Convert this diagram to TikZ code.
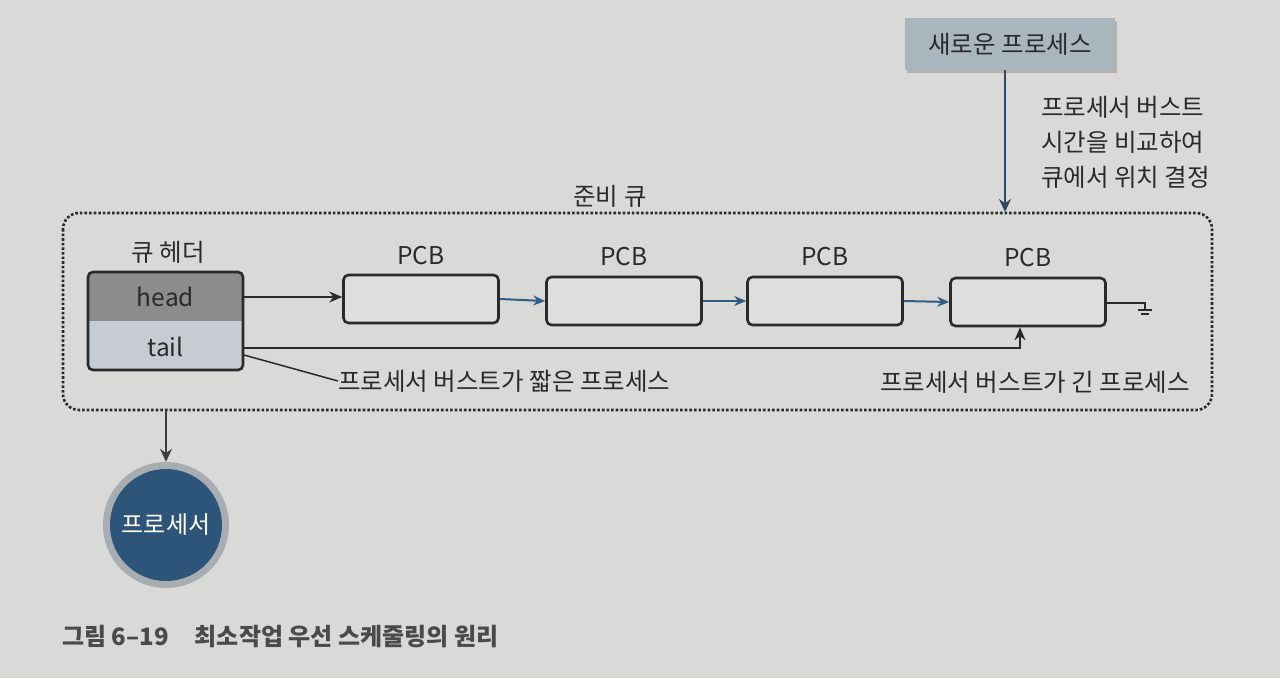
\documentclass[tikz,border=0pt]{standalone}
\usepackage{fontspec}
\setmainfont{Noto Sans CJK KR}
\usetikzlibrary{arrows.meta,shadows}
\definecolor{bg}{HTML}{D9D9D7}
\definecolor{ink}{HTML}{2A2A2A}
\definecolor{headfill}{HTML}{8C8C8C}
\definecolor{tailfill}{HTML}{C6CCD1}
\definecolor{boxfill}{HTML}{DEDEDC}
\definecolor{linkblue}{HTML}{2F5E82}
\definecolor{newfill}{HTML}{A9B6BE}
\definecolor{arrowblue}{HTML}{2E4A64}
\definecolor{cpublue}{HTML}{2D5479}
\definecolor{ring}{HTML}{A8ADB1}
\tikzset{
  txt/.style={font=\fontsize{24.5}{28}\selectfont, text=ink, inner sep=0pt},
  pcb/.style={draw=ink, line width=2.6pt, rounded corners=5pt, fill=boxfill, minimum width=155pt, minimum height=48pt, inner sep=0pt},
  blink/.style={draw=linkblue, line width=2pt, -{Stealth[length=12pt,width=10pt]}},
  klink/.style={draw=ink, line width=1.6pt, -{Stealth[length=13pt,width=11pt]}},
  thinline/.style={draw=ink, line width=1.5pt},
}
\begin{document}
\begin{tikzpicture}[x=1pt,y=-1pt]
\fill[bg] (0,0) rectangle (1280,678);
\useasboundingbox (0,0) rectangle (1280,678);

% ready queue dotted frame
\draw[ink, line width=2.6pt, dotted, rounded corners=16pt] (63,213) rectangle (1212,410);
\node[txt] (rq) at (610,196) {준비 큐};

% queue header
\node[txt] (qh) at (168,252) {큐 헤더};
\path[fill=headfill, rounded corners=4pt] (88,272) -- (88,321) -- (243,321) -- (243,272) -- cycle;
\path[fill=tailfill, rounded corners=4pt] (88,321) -- (88,370) -- (243,370) -- (243,321) -- cycle;
\fill[headfill] (88,310) rectangle (243,321);
\fill[tailfill] (88,321) rectangle (243,332);
\node[draw=ink, line width=2.6pt, rounded corners=5pt, minimum width=155pt, minimum height=98pt, inner sep=0pt] (hdr) at (165.5,321) {};
\node[txt] (head) at (165.5,297) {head};
\node[txt] (tail) at (165.5,347) {tail};
\coordinate (headR) at (244,297);
\coordinate (tailR) at (244,348);
\coordinate (tailR2) at (244,355);

% PCBs
\node[pcb] (p1) at (421,299) {};
\node[pcb] (p2) at (624,301) {};
\node[pcb] (p3) at (825,301) {};
\node[pcb] (p4) at (1028,302) {};
\node[txt] at (421,256) {PCB};
\node[txt] at (624,257) {PCB};
\node[txt] at (825,257) {PCB};
\node[txt] at (1028,258) {PCB};

\draw[klink] (headR) -- (p1.west |- headR);
\draw[blink] (p1.east) -- (p2.west);
\draw[blink] (p2.east) -- (p3.west);
\draw[blink] (p3.east) -- (p4.west);

% ground
\coordinate (g0) at (1145,303);
\draw[thinline] (p4.east |- g0) -- (g0) -- (1145,310);
\draw[thinline] (1138,310) -- (1152,310);
\draw[thinline] (1141,314) -- (1149,314);

% tail to last PCB
\coordinate (tc) at (1020,348);
\draw[klink] (tailR) -- (tc) -- (tc |- p4.south);

% short burst label
\node[txt, anchor=west] (short) at (338,381) {프로세서 버스트가 짧은 프로세스};
\draw[thinline] (tailR2) -- (short.west);
\node[txt, anchor=east] (long) at (1190,382) {프로세서 버스트가 긴 프로세스};

% new process
\node[txt, fill=newfill, minimum width=210pt, minimum height=52pt, drop shadow={shadow xshift=2pt, shadow yshift=-3pt, fill=black!45, opacity=0.5}] (np) at (1010,44) {새로운 프로세스};
\coordinate (npin) at (1005,212);
\draw[draw=arrowblue, line width=2.6pt, -{Stealth[length=13pt,width=12pt]}] (np.south -| npin) -- (npin);
\node[txt, anchor=north west, align=left, font=\fontsize{24.5}{35}\selectfont] (cmp) at (1041,96) {프로세서 버스트\\시간을 비교하여\\큐에서 위치 결정};

% processor
\node[circle, fill=ring, minimum size=126pt, inner sep=0pt] (cpuring) at (166,525) {};
\node[circle, fill=cpublue, minimum size=112pt, inner sep=0pt, text=white, font=\fontsize{24}{28}\selectfont] (cpu) at (166,525) {프로세서};
\coordinate (qout) at (166,410);
\draw[draw=ink!90, line width=2pt, -{Stealth[length=13pt,width=12pt]}] (qout) -- (cpuring.north);

% caption
\node[anchor=west, inner sep=0pt, text=ink!85, font=\fontsize{24}{28}\selectfont\bfseries] (cap) at (62,637) {그림 6–19\hspace{26pt}최소작업 우선 스케줄링의 원리};
\end{tikzpicture}
\end{document}
